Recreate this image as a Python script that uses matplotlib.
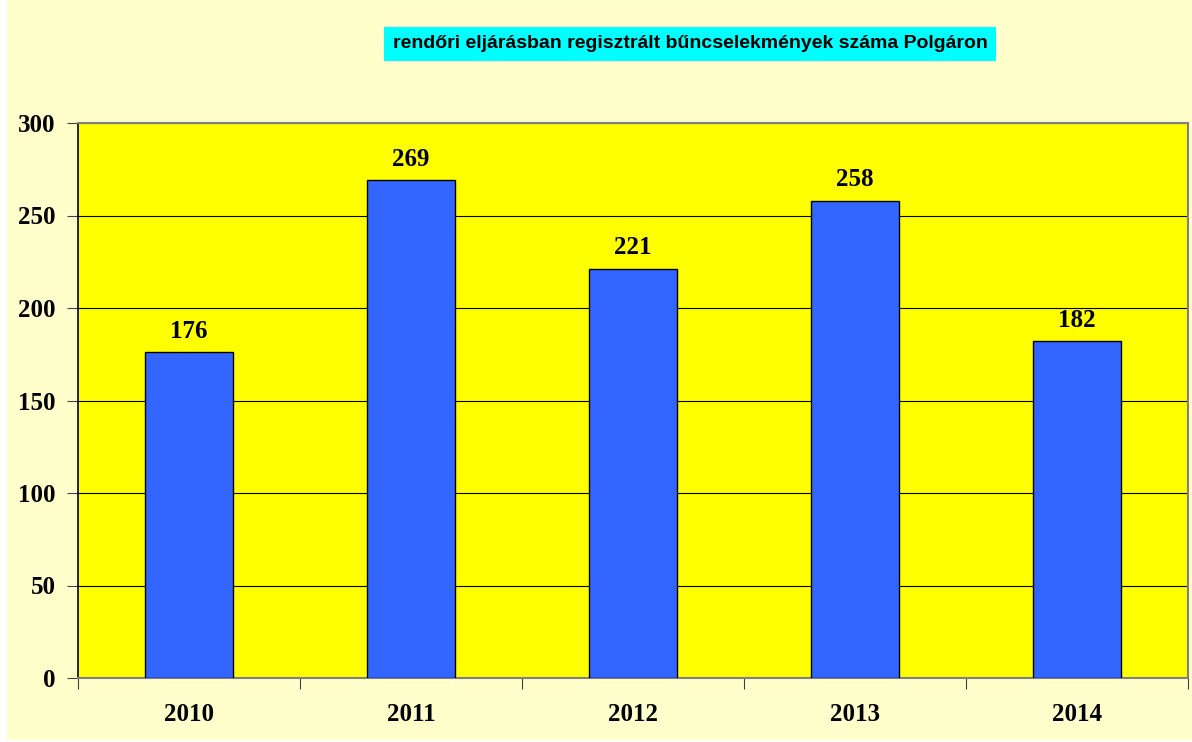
import matplotlib
matplotlib.use("Agg")
import matplotlib.pyplot as plt
from matplotlib.patches import Rectangle

years = ["2010", "2011", "2012", "2013", "2014"]
counts = [176, 269, 221, 258, 182]
yticks = [0, 50, 100, 150, 200, 250, 300]
title = "rendőri eljárásban regisztrált bűncselekmények száma Polgáron"

fig = plt.figure(figsize=(11.92, 7.42), dpi=100, facecolor="white")
fig.patches.append(Rectangle((7 / 1192, 2 / 742), 1, 1, transform=fig.transFigure,
                             facecolor="#FFFFCC", edgecolor="none", zorder=-10))

ax = fig.add_axes([78 / 1192, 64 / 742, 1110 / 1192, 555 / 742])
ax.set_facecolor("#FFFF00")

x = list(range(len(years)))
ax.bar(x, counts, width=0.4, color="#3366FF", edgecolor="black", linewidth=1.0, zorder=3)
for xi, v in zip(x, counts):
    ax.annotate(str(v), (xi, v), xytext=(0, 7), textcoords="offset points",
                ha="center", va="bottom", fontsize=18, fontweight="bold",
                family="Liberation Serif")

ax.set_xlim(-0.5, len(years) - 0.5)
ax.set_ylim(0, 300)
ax.set_yticks(yticks)
ax.set_yticklabels([str(t) for t in yticks], fontsize=18, fontweight="bold", family="Liberation Serif")
ax.yaxis.grid(True, color="black", linewidth=0.8, zorder=1)
ax.set_axisbelow(True)

ax.set_xticks([i - 0.5 for i in range(len(years) + 1)])
ax.set_xticklabels([])
ax.set_xticks(x, minor=True)
ax.set_xticklabels(years, minor=True, fontsize=18, fontweight="bold", family="Liberation Serif")
ax.tick_params(axis="x", which="major", length=8, direction="out", color="#404040")
ax.tick_params(axis="x", which="minor", length=0, pad=18)
ax.tick_params(axis="y", length=8, direction="out", color="#404040", pad=8)

for side in ["top", "right", "bottom"]:
    ax.spines[side].set_color("#808080")
    ax.spines[side].set_linewidth(1.5)
ax.spines["left"].set_color("black")
ax.spines["left"].set_linewidth(1.2)

fig.text(690 / 1192, 1 - 44 / 742, title, ha="center", va="center", fontsize=14,
         fontweight="bold", family="Liberation Sans",
         bbox=dict(boxstyle="square,pad=0.45", facecolor="#00FFFF", edgecolor="none"))

fig.savefig("out.png", dpi=100, facecolor=fig.get_facecolor())
